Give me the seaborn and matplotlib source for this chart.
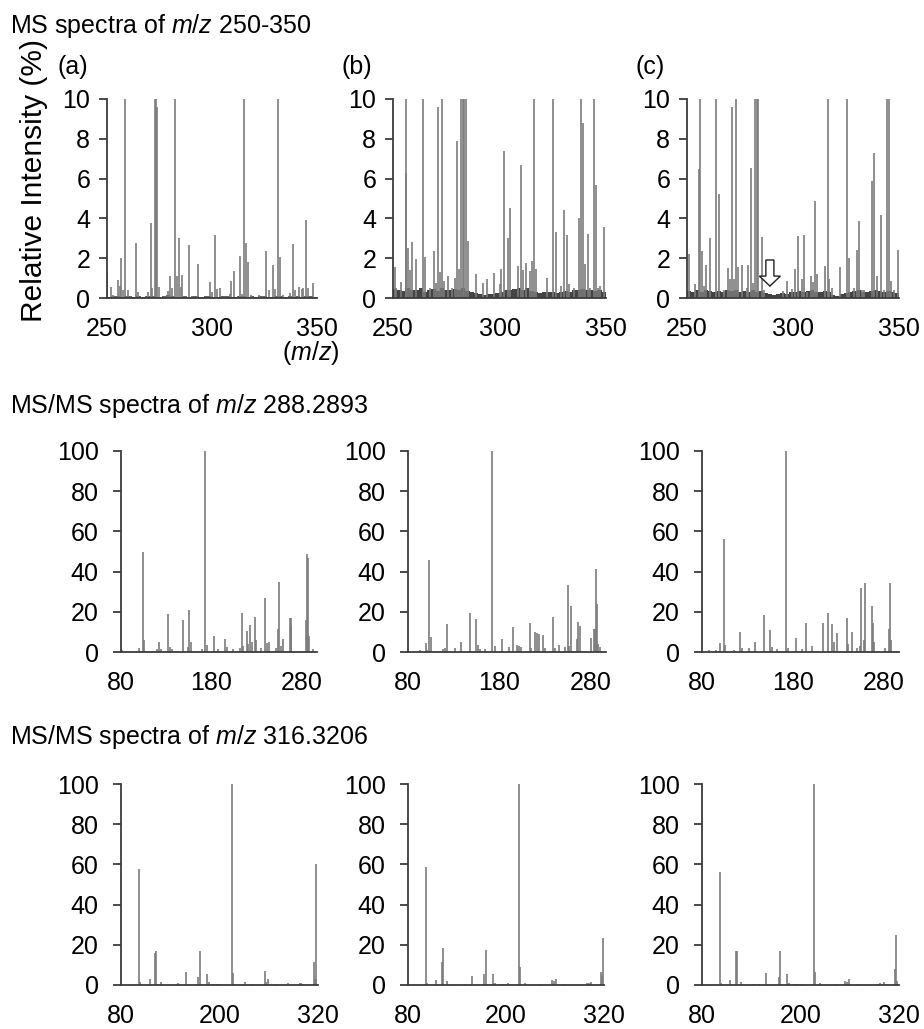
import numpy as np
import matplotlib
matplotlib.use("Agg")
import matplotlib.pyplot as plt
import seaborn as sns

# ---- MS spectra m/z 250-350 (top row) ----
ms_a_mz = [250.2, 251.7, 253.0, 255.4, 256.0, 256.9, 257.8, 258.7, 259.8, 263.8, 264.6, 269.7,
           270.8, 271.6, 272.7, 273.2, 274.0, 274.9, 278.9, 280.0, 281.0, 282.2, 283.1, 284.1,
           285.0, 285.9, 289.2, 290.3, 293.2, 299.0, 300.0, 301.4, 302.2, 304.0, 308.6, 309.2,
           310.5, 313.3, 314.1, 315.4, 316.3, 317.3, 318.4, 322.5, 325.6, 327.2, 329.2, 330.2,
           331.4, 332.5, 333.6, 337.1, 338.7, 339.5, 341.6, 342.7, 343.5, 344.6, 345.7, 347.9]
ms_a_int = [1.29, 0.55, 0.15, 0.9, 0.6, 2.0, 0.4, 18, 0.4, 2.76, 0.3, 0.3,
            3.77, 0.5, 18, 15, 9.6, 0.55, 0.35, 1.09, 0.5, 18, 1.1, 3.0,
            0.55, 1.15, 2.65, 0.1, 1.72, 0.8, 0.3, 3.15, 0.45, 0.5, 0.2, 0.85,
            1.37, 2.12, 0.2, 18, 2.75, 1.83, 0.15, 0.15, 2.35, 0.4, 1.65, 0.45,
            18, 2.05, 0.15, 0.25, 2.7, 0.4, 0.55, 0.45, 0.5, 3.93, 0.5, 0.75]

ms_b_mz = [250.8, 251.6, 253.9, 255.95, 256.3, 257.2, 258.2, 259.1, 261.0, 264.1, 265.2, 267.2,
           269.1, 270.0, 271.0, 272.0, 273.2, 274.1, 276.0, 277.9, 279.0, 280.2, 281.0, 282.1,
           282.8, 283.4, 284.3, 285.0, 288.9, 292.2, 294.2, 297.2, 300.2, 300.9, 302.0, 304.2,
           305.0, 308.9, 310.2, 311.1, 312.4, 314.3, 315.2, 316.1, 317.1, 322.1, 325.2, 326.3,
           328.9, 330.2, 331.5, 332.7, 334.8, 337.4, 338.2, 339.2, 340.1, 341.4, 342.5, 344.2,
           345.1, 346.3, 347.4, 349.2]
ms_b_int = [1.55, 0.5, 0.8, 6.3, 18, 2.5, 1.4, 2.8, 1.95, 18, 2.05, 0.5,
            2.35, 0.75, 9.6, 1.3, 18, 0.85, 1.1, 0.5, 1.0, 7.9, 1.45, 18,
            18, 18, 18, 2.85, 1.2, 0.75, 0.95, 1.25, 0.7, 1.45, 7.4, 3.0,
            4.5, 1.6, 6.7, 1.4, 1.75, 1.35, 1.85, 18, 1.45, 1.0, 18, 3.3,
            0.6, 4.4, 3.15, 0.7, 0.5, 4.0, 18, 8.8, 1.7, 3.2, 0.5, 18,
            5.7, 0.5, 0.6, 3.55]

ms_c_mz = [250.9, 254.0, 255.5, 256.0, 256.9, 258.0, 259.1, 260.7, 263.9, 265.0, 267.6, 269.2,
           270.2, 271.1, 272.0, 273.0, 274.0, 276.0, 278.1, 279.0, 280.1, 280.9, 282.2, 283.0,
           283.7, 285.2, 286.3, 295.2, 297.2, 299.4, 301.1, 302.2, 304.2, 305.0, 306.4, 308.3,
           309.2, 310.2, 311.3, 315.1, 316.4, 317.0, 318.3, 322.2, 325.4, 326.3, 329.0, 330.3,
           331.1, 332.5, 333.6, 337.1, 338.3, 339.6, 341.3, 342.7, 344.5, 345.2, 346.3, 347.8,
           349.3]
ms_c_int = [2.2, 0.7, 6.5, 18, 2.35, 0.6, 1.65, 3.0, 18, 5.25, 0.4, 1.5,
            0.95, 9.6, 0.95, 18, 1.55, 1.65, 0.5, 1.65, 6.55, 0.75, 18, 18,
            18, 3.05, 0.4, 0.35, 0.85, 0.45, 1.45, 3.1, 0.95, 3.15, 0.3, 1.1,
            0.8, 4.85, 1.2, 1.6, 18, 0.95, 0.5, 1.55, 18, 2.0, 0.5, 2.4,
            3.85, 0.4, 0.4, 5.9, 7.3, 1.1, 4.15, 0.4, 18, 18, 0.85, 0.4,
            2.4]

# low-level baseline signal, one value per 2 m/z from 251 to 349
noise_mz = np.arange(251, 350, 2)
noise_a = [0.05, 0.08, 0.10, 0.06, 0.12, 0.08, 0.05, 0.10, 0.07, 0.09,
           0.12, 0.08, 0.06, 0.10, 0.15, 0.08, 0.05, 0.07, 0.10, 0.06,
           0.08, 0.12, 0.05, 0.09, 0.10, 0.07, 0.06, 0.10, 0.08, 0.05,
           0.07, 0.10, 0.12, 0.06, 0.08, 0.05, 0.09, 0.10, 0.07, 0.06,
           0.08, 0.10, 0.05, 0.12, 0.07, 0.09, 0.06, 0.10, 0.08, 0.05]
noise_b = [0.45, 0.40, 0.35, 0.50, 0.42, 0.38, 0.48, 0.30, 0.40, 0.45,
           0.35, 0.50, 0.42, 0.38, 0.45, 0.40, 0.48, 0.35, 0.30, 0.25,
           0.20, 0.15, 0.22, 0.18, 0.25, 0.30, 0.38, 0.42, 0.45, 0.50,
           0.40, 0.48, 0.35, 0.30, 0.25, 0.28, 0.32, 0.30, 0.25, 0.28,
           0.35, 0.30, 0.42, 0.40, 0.45, 0.38, 0.42, 0.35, 0.40, 0.30]
noise_c = [0.35, 0.30, 0.38, 0.32, 0.40, 0.35, 0.30, 0.36, 0.32, 0.38,
           0.35, 0.40, 0.30, 0.35, 0.32, 0.38, 0.30, 0.35, 0.25, 0.20,
           0.15, 0.18, 0.25, 0.20, 0.30, 0.32, 0.35, 0.30, 0.35, 0.40,
           0.30, 0.32, 0.35, 0.30, 0.15, 0.12, 0.18, 0.25, 0.30, 0.35,
           0.38, 0.32, 0.30, 0.35, 0.40, 0.33, 0.30, 0.35, 0.30, 0.25]

# ---- MS/MS of m/z 288.2893 (middle row) ----
p288_a_mz = [81.5, 99.9, 103.9, 105.8, 119.8, 122.4, 124.6, 131.6, 134.6, 136.8, 148.1, 154.0,
             155.5, 157.3, 169.5, 172.8, 175.0, 183.1, 187.9, 195.3, 197.1, 204.5, 211.8, 213.7,
             215.5, 219.2, 220.7, 223.3, 225.1, 228.1, 229.5, 234.7, 239.5, 241.3, 244.3, 251.6,
             254.2, 255.3, 257.1, 259.0, 267.1, 267.8, 268.6, 284.8, 285.9, 287.0, 287.7, 292.9]
p288_a_int = [1, 2, 50, 6, 1.5, 5, 1.5, 19, 2.5, 1.5, 16, 2.5,
              21, 5, 1.5, 100, 3.5, 8, 1.5, 6.5, 2.5, 1.5, 2, 19.5,
              3, 10.5, 4, 13.5, 5, 17.5, 6, 2, 27, 4.5, 5, 2,
              11.5, 35, 3, 6.5, 17, 13, 17, 16, 49, 47, 8, 1.5]

p288_b_mz = [92.8, 99.4, 101.2, 103.5, 105.3, 118.5, 120.7, 122.6, 131.7, 138.3, 147.9, 154.9,
             156.3, 158.9, 164.4, 172.1, 175.0, 183.1, 190.4, 194.9, 199.3, 201.5, 203.7, 213.2,
             215.0, 219.4, 221.3, 223.5, 227.5, 229.7, 238.9, 241.1, 245.1, 252.4, 255.0, 256.5,
             258.7, 265.4, 266.1, 268.3, 281.1, 283.7, 285.2, 285.9, 286.6, 288.1, 290.3]
p288_b_int = [0.8, 4.5, 1, 46, 7.5, 1.5, 2, 14, 2, 5, 19.5, 16.5,
              3.5, 1.5, 1.5, 100, 3, 6.5, 2.5, 12.5, 3.5, 3, 2.5, 14.5,
              2, 10, 9.5, 9, 8.5, 2, 17.5, 2, 3.5, 2.5, 33.5, 3,
              23, 6.5, 15, 13, 7, 11.5, 11.5, 41.5, 24, 4, 2.5]

p288_c_mz = [87.7, 95.0, 99.9, 103.9, 105.7, 115.2, 122.3, 124.6, 131.6, 138.5, 148.0, 155.4,
             156.9, 162.8, 173.0, 174.5, 183.3, 190.3, 194.7, 200.9, 213.5, 219.3, 223.4, 225.3,
             228.2, 239.6, 241.1, 245.4, 250.9, 253.9, 255.4, 258.3, 259.4, 266.8, 268.6, 269.3,
             281.1, 285.5, 287.0, 288.1]
p288_c_int = [1, 1, 4.5, 56, 3.5, 1, 10, 2, 2, 5, 18.5, 11,
              2.5, 1.5, 100, 2, 7, 1.5, 14.5, 3, 14.5, 19.5, 14, 5,
              9.5, 17, 4, 10, 2, 3, 32, 6, 34.5, 23, 14.5, 5,
              2, 11.5, 34.5, 6]

# ---- MS/MS of m/z 316.3206 (bottom row) ----
p316_a_mz = [102.3, 103.5, 114.9, 121.8, 123.0, 128.3, 149.4, 158.6, 173.6, 175.7, 184.2, 186.6,
             192.3, 196.4, 200.4, 215.8, 217.0, 230.8, 240.9, 255.1, 257.1, 259.6, 267.7, 283.9,
             297.7, 299.7, 302.6, 315.1, 316.3, 317.1, 317.9]
p316_a_int = [57.5, 1.5, 3, 16, 17, 1.5, 0.8, 6.5, 4, 17, 5.5, 1.5,
              0.7, 0.7, 0.7, 100, 6, 1.5, 0.5, 7, 1.5, 3, 0.5, 1,
              1, 1, 0.5, 11.5, 3, 60, 3]

p316_b_mz = [101.7, 103.3, 114.8, 122.1, 123.3, 128.2, 148.6, 158.5, 173.2, 175.7, 184.3, 186.8,
             193.7, 197.4, 202.3, 216.1, 216.9, 223.8, 243.4, 255.8, 258.6, 260.7, 270.1, 298.7,
             301.1, 303.6, 315.9, 317.1, 318.8]
p316_b_int = [58.5, 1, 2.5, 11.5, 18.5, 2, 0.5, 4.5, 5.5, 17.5, 5.5, 1,
              0.7, 0.7, 1, 100, 9, 1, 0.5, 2.5, 2, 3, 0.7, 1,
              0.8, 1.5, 6.5, 5, 23.5]

p316_c_mz = [102.3, 103.5, 114.5, 121.4, 123.0, 127.9, 142.9, 148.9, 158.4, 173.4, 175.4, 183.6,
             186.4, 193.7, 196.6, 201.9, 216.0, 217.3, 223.4, 241.7, 254.6, 256.6, 259.5, 270.1,
             293.3, 297.3, 302.2, 314.7, 316.8, 318.0]
p316_c_int = [56, 1, 2.5, 17, 17, 1.5, 0.5, 0.5, 6, 4, 17, 5.5,
              1.2, 0.7, 0.7, 0.5, 100, 6.5, 0.8, 0.5, 2, 1.5, 3, 0.5,
              0.5, 1, 1.3, 8, 25, 2]

W, H = 924, 1029
STEM = "#7b7b7b"
AXIS = "#3c3c3c"
FS = 18

sns.set_theme(style="ticks")
plt.rcParams['font.family'] = ['Liberation Sans', 'DejaVu Sans']
plt.rcParams['mathtext.fontset'] = 'custom'
plt.rcParams['mathtext.rm'] = 'Liberation Sans'
plt.rcParams['mathtext.it'] = 'Liberation Sans:italic'

fig = plt.figure(figsize=(W / 100, H / 100), dpi=100)


def px_axes(left, right, top, bottom):
    return fig.add_axes([left / W, 1 - bottom / H, (right - left) / W, (bottom - top) / H])


def spectrum(ax, mz, inten, xlim, ymax, xticks, yticks, xpad, ypad, noise=None, noise_color="#444444"):
    if noise is not None:
        ax.bar(noise_mz, noise, width=2.0, color=noise_color, linewidth=0, zorder=1)
    ax.vlines(mz, 0, inten, color=STEM, linewidth=1.2, zorder=2)
    ax.set_xlim(*xlim)
    ax.set_ylim(0, ymax)
    ax.set_xticks(xticks)
    ax.set_yticks(yticks)
    sns.despine(ax=ax)
    for s in ("left", "bottom"):
        ax.spines[s].set_color(AXIS)
        ax.spines[s].set_linewidth(1.3)
    ax.tick_params(axis="y", direction="out", length=6, width=1.3, color=AXIS,
                   labelsize=FS, pad=ypad, labelcolor="black")
    ax.tick_params(axis="x", length=0, labelsize=FS, pad=xpad, labelcolor="black")
    ax.set_facecolor("white")
    ax.grid(False)


# top row
top_boxes = [(107, 317), (393, 606), (687, 899)]
top_data = [(ms_a_mz, ms_a_int, noise_a, "#666666"),
            (ms_b_mz, ms_b_int, noise_b, "#444444"),
            (ms_c_mz, ms_c_int, noise_c, "#444444")]
top_axes = []
for (l, r), (mz, it, nz, nc) in zip(top_boxes, top_data):
    ax = px_axes(l, r, 99, 298)
    spectrum(ax, mz, it, (250, 350), 10, [250, 300, 350], [0, 2, 4, 6, 8, 10], 14, 6, nz, nc)
    top_axes.append(ax)

# arrow marking m/z 288.29 in (c)
top_axes[2].arrow(289.1, 1.91, 0, -1.31, width=3.8, head_width=9.9, head_length=0.5,
                  length_includes_head=True, fc="white", ec="#222222", lw=1.0, zorder=5)

# middle row
mid_boxes = [(121, 317), (408, 606), (702, 899)]
mid_data = [(p288_a_mz, p288_a_int), (p288_b_mz, p288_b_int), (p288_c_mz, p288_c_int)]
for (l, r), (mz, it) in zip(mid_boxes, mid_data):
    ax = px_axes(l, r, 451, 652)
    spectrum(ax, mz, it, (80, 297), 100, [80, 180, 280], [0, 20, 40, 60, 80, 100], 14, 10)

# bottom row
bot_boxes = [(121, 318), (408, 604), (702, 899)]
bot_data = [(p316_a_mz, p316_a_int), (p316_b_mz, p316_b_int), (p316_c_mz, p316_c_int)]
for (l, r), (mz, it) in zip(bot_boxes, bot_data):
    ax = px_axes(l, r, 784, 985)
    spectrum(ax, mz, it, (80, 320), 100, [80, 200, 320], [0, 20, 40, 60, 80, 100], 14, 10)


# texts
def ftext(x, y, s, size=FS, **kw):
    fig.text(x / W, 1 - y / H, s, fontsize=size, color="black", **kw)


ftext(10, 26, r"MS spectra of $\mathit{m/z}$ 250-350", ha="left", va="center")
ftext(10, 406, r"MS/MS spectra of $\mathit{m/z}$ 288.2893", ha="left", va="center")
ftext(10, 737, r"MS/MS spectra of $\mathit{m/z}$ 316.3206", ha="left", va="center")
ftext(34, 180, "Relative Intensity (%)", size=21.5, rotation=90, ha="center", va="center")
ftext(73, 67, "(a)", ha="center", va="center")
ftext(357, 67, "(b)", ha="center", va="center")
ftext(650, 67, "(c)", ha="center", va="center")
ftext(311, 353, r"($\mathit{m/z}$)", ha="center", va="center")

fig.savefig("out.png", dpi=100, facecolor="white")
